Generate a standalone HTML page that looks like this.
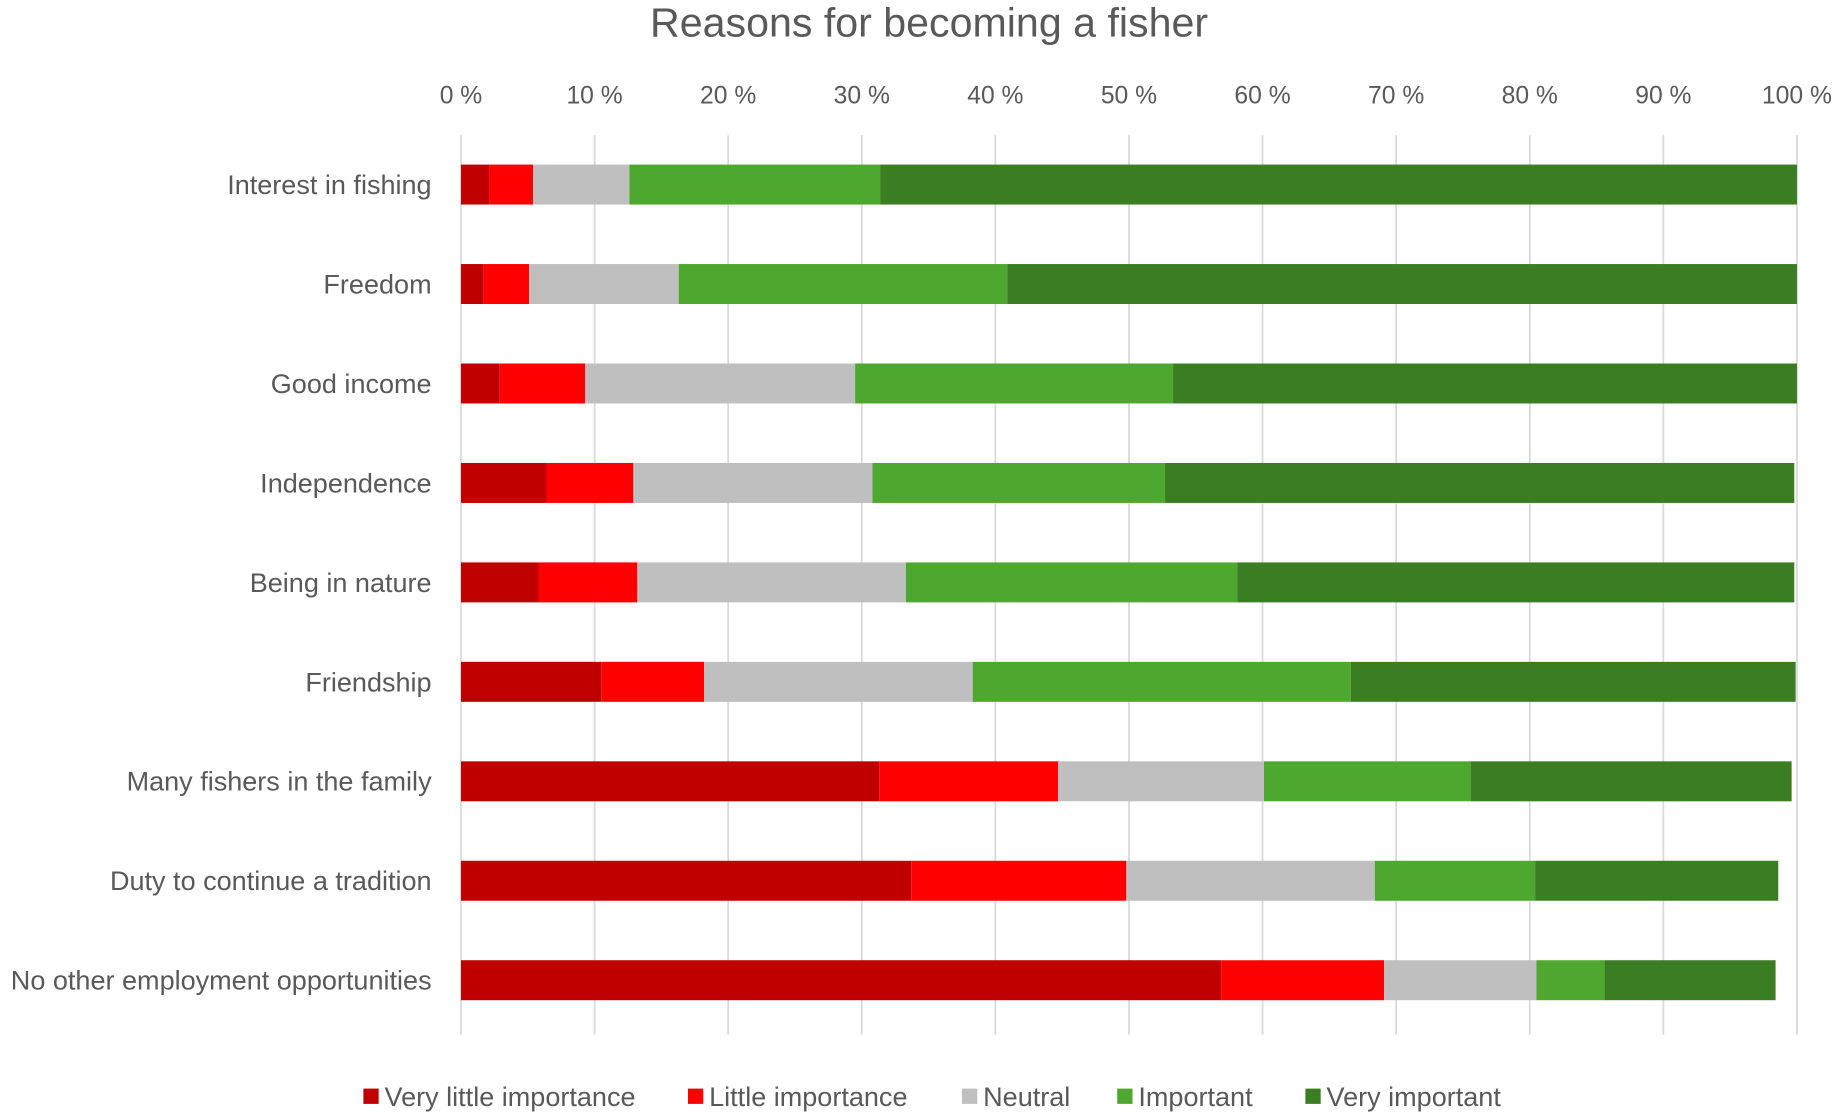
<!DOCTYPE html>
<html><head><meta charset="utf-8"><style>
html,body{margin:0;padding:0;background:#fff;}
svg{display:block;}
text{font-family:"Liberation Sans",sans-serif;fill:#595959;}
</style></head><body>
<svg id="chart" width="1844" height="1118" viewBox="0 0 1568 951" preserveAspectRatio="none" xmlns="http://www.w3.org/2000/svg">
<text x="790" y="31" text-anchor="middle" font-size="35">Reasons for becoming a fisher</text>
<g id="grid"></g><g id="bars"></g><g id="legend"></g>
</svg>
<script>
const categories=["Interest in fishing","Freedom","Good income","Independence","Being in nature","Friendship","Many fishers in the family","Duty to continue a tradition","No other employment opportunities"];
const seriesNames=["Very little importance","Little importance","Neutral","Important","Very important"];
const veryLittle=[2.1,1.7,2.9,6.4,5.8,10.5,31.3,33.7,56.9];
const little=[3.3,3.4,6.4,6.5,7.4,7.7,13.4,16.1,12.2];
const neutral=[7.2,11.2,20.2,17.9,20.1,20.1,15.4,18.6,11.4];
const important=[18.8,24.6,23.8,21.9,24.8,28.3,15.5,12.0,5.1];
const veryImportant=[68.6,59.1,46.7,47.1,41.7,33.3,24.0,18.2,12.8];
const tickValues=[0,10,20,30,40,50,60,70,80,90,100];
const tickLabels=["0 %","10 %","20 %","30 %","40 %","50 %","60 %","70 %","80 %","90 %","100 %"];
const colors=["#C00000","#FF0000","#BFBFBF","#4EA72E","#3A7D22"];
const NS="http://www.w3.org/2000/svg";
const X0=392,X1=1528,Y0=115,Y1=880;
const xs=v=>X0+(X1-X0)*v/100;
const band=84.6;
const yc=i=>157+band*i;
function mk(t,a,p){const e=document.createElementNS(NS,t);for(const k in a)e.setAttribute(k,a[k]);p.appendChild(e);return e;}
const grid=document.getElementById('grid'),bars=document.getElementById('bars'),leg=document.getElementById('legend');
tickValues.forEach((v,i)=>{
 const l=mk('line',{x1:xs(v),x2:xs(v),y1:Y0,y2:Y1,stroke:'#D9D9D9','stroke-width':1.5},grid);
 
 
 const t=mk('text',{x:xs(v),y:88,'text-anchor':'middle','font-size':21},grid);
 t.textContent=tickLabels[i];
 
 
});
const all=[veryLittle,little,neutral,important,veryImportant];
categories.forEach((c,i)=>{
 const t=mk('text',{x:367,y:yc(i)+8,'text-anchor':'end','font-size':23},bars);
 t.textContent=c;
 
 
 let acc=0;
 all.forEach((s,j)=>{
  const r=mk('rect',{x:xs(acc),y:yc(i)-17,width:xs(acc+s[i])-xs(acc),height:34,fill:colors[j]},bars);
  
  
  acc+=s[i];
 });
});
const legX=[309,585,818,950,1110];
seriesNames.forEach((n,j)=>{
 const r=mk('rect',{x:legX[j],y:926,width:13,height:13,fill:colors[j]},leg);
 
 
 const t=mk('text',{x:legX[j]+18,y:941,'font-size':23},leg);
 t.textContent=n;
 
 
});
</script>
</body></html>
